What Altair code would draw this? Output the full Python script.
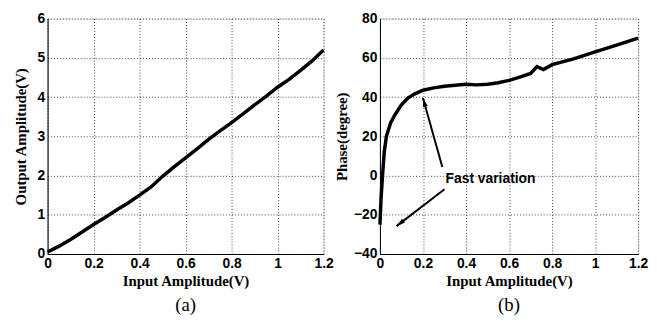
import altair as alt
import pandas as pd

# Left panel (a): output amplitude vs input amplitude
in_a = [0.0, 0.05, 0.1, 0.15, 0.2, 0.25, 0.3, 0.35, 0.4, 0.45, 0.5, 0.55, 0.6, 0.65, 0.7, 0.75, 0.8, 0.85, 0.9, 0.95, 1.0, 1.05, 1.1, 1.15, 1.2]
out_a = [0.05, 0.2, 0.37, 0.56, 0.75, 0.93, 1.12, 1.3, 1.5, 1.71, 1.98, 2.22, 2.45, 2.68, 2.92, 3.14, 3.35, 3.57, 3.8, 4.02, 4.25, 4.45, 4.68, 4.92, 5.2]

# Right panel (b): phase vs input amplitude
in_b = [0.0, 0.005, 0.012, 0.02, 0.03, 0.05, 0.07, 0.1, 0.13, 0.16, 0.2, 0.25, 0.3, 0.35, 0.4, 0.45, 0.5, 0.55, 0.6, 0.65, 0.7, 0.73, 0.76, 0.8, 0.9, 1.0, 1.1, 1.2]
phase_b = [-25, -12, 0, 12, 20, 27, 31, 36, 39.5, 41.5, 43.5, 44.7, 45.5, 46.0, 46.5, 46.2, 46.5, 47.3, 48.5, 50.2, 52.0, 55.5, 54.0, 56.5, 59.5, 63.0, 66.5, 70.0]

# Annotation
note_text = ["Fast variation"]
note_x = [0.305]
note_y = [-2.0]
arrow_x1 = [0.29, 0.30]
arrow_y1 = [4.4, -7.0]
arrow_x2 = [0.2, 0.077]
arrow_y2 = [39.5, -25.8]
arrow_angle = [344, 232]

x_ticks = [0, 0.2, 0.4, 0.6, 0.8, 1.0, 1.2]
ya_ticks = [0, 1, 2, 3, 4, 5, 6]
yb_ticks = [-40, -20, 0, 20, 40, 60, 80]

df_a = pd.DataFrame({"x": in_a, "y": out_a})
df_b = pd.DataFrame({"x": in_b, "y": phase_b})
df_note = pd.DataFrame({"x": note_x, "y": note_y, "t": note_text})
df_arrow = pd.DataFrame({"x": arrow_x1, "y": arrow_y1, "x2": arrow_x2, "y2": arrow_y2, "ang": arrow_angle})

LAB_FONT = "Liberation Sans"
TIT_FONT = "Liberation Serif"

def x_axis():
    return alt.Axis(values=x_ticks, format="~g", title="Input Amplitude(V)",
                    labelFont=LAB_FONT, labelFontSize=14, labelFontWeight="bold", labelColor="black",
                    labelPadding=3, ticks=False, domainColor="black", labelOverlap=False,
                    titleFont=TIT_FONT, titleFontSize=15, titleFontWeight="bold", titleColor="black",
                    titlePadding=3, grid=True, gridDash=[1, 2], gridColor="#444", labelFlush=False)

def y_axis(vals, title, tpad):
    return alt.Axis(values=vals, format="d", title=title,
                    labelFont=LAB_FONT, labelFontSize=14, labelFontWeight="bold", labelColor="black",
                    labelPadding=3, ticks=False, domainColor="black", labelOverlap=False,
                    titleFont=TIT_FONT, titleFontSize=15, titleFontWeight="bold", titleColor="black",
                    titlePadding=tpad, grid=True, gridDash=[1, 2], gridColor="#444")

xs = alt.Scale(domain=[0, 1.2], nice=False, zero=False)

left = alt.Chart(df_a).mark_line(color="black", strokeWidth=3.5).encode(
    x=alt.X("x:Q", scale=xs, axis=x_axis()),
    y=alt.Y("y:Q", scale=alt.Scale(domain=[0, 6], nice=False), axis=y_axis(ya_ticks, "Output Amplitude(V)", 9)),
).properties(width=279, height=238,
             title=alt.TitleParams("(a)", orient="bottom", font=TIT_FONT, fontSize=19,
                                   fontWeight="normal", color="black", offset=8))

ysb = alt.Scale(domain=[-40, 80], nice=False)
XB = alt.X("x:Q", scale=xs, axis=x_axis())
YB = alt.Y("y:Q", scale=ysb, axis=y_axis(yb_ticks, "Phase(degree)", 4))

line_b = alt.Chart(df_b).mark_line(color="black", strokeWidth=3.5).encode(x=XB, y=YB)
arrows = alt.Chart(df_arrow).mark_rule(color="black", strokeWidth=2).encode(
    x=XB, y=YB, x2="x2:Q", y2="y2:Q")
heads = alt.Chart(df_arrow).mark_point(shape="M0,0L-0.55,2L0.55,2Z", filled=True, color="black",
                                        size=81, opacity=1).encode(
    x=alt.X("x2:Q", scale=xs, axis=x_axis()),
    y=alt.Y("y2:Q", scale=ysb, axis=y_axis(yb_ticks, "Phase(degree)", 4)),
    angle=alt.Angle("ang:Q", scale=None))
note = alt.Chart(df_note).mark_text(font=LAB_FONT, fontSize=14, fontWeight="bold", align="left",
                                    baseline="middle", color="black").encode(
    x=XB, y=YB, text="t:N")
right = alt.layer(line_b, arrows, heads, note).properties(
    width=261, height=238,
    title=alt.TitleParams("(b)", orient="bottom", font=TIT_FONT, fontSize=19,
                          fontWeight="normal", color="black", offset=8))

chart = alt.hconcat(left, right, spacing=57, bounds="flush").properties(
    padding={"left": 4, "top": 1, "right": 0, "bottom": 0}
).configure_view(stroke="black", strokeWidth=1).configure(background="white")

chart.save("out.html", embed_options={"renderer": "svg", "actions": False})
